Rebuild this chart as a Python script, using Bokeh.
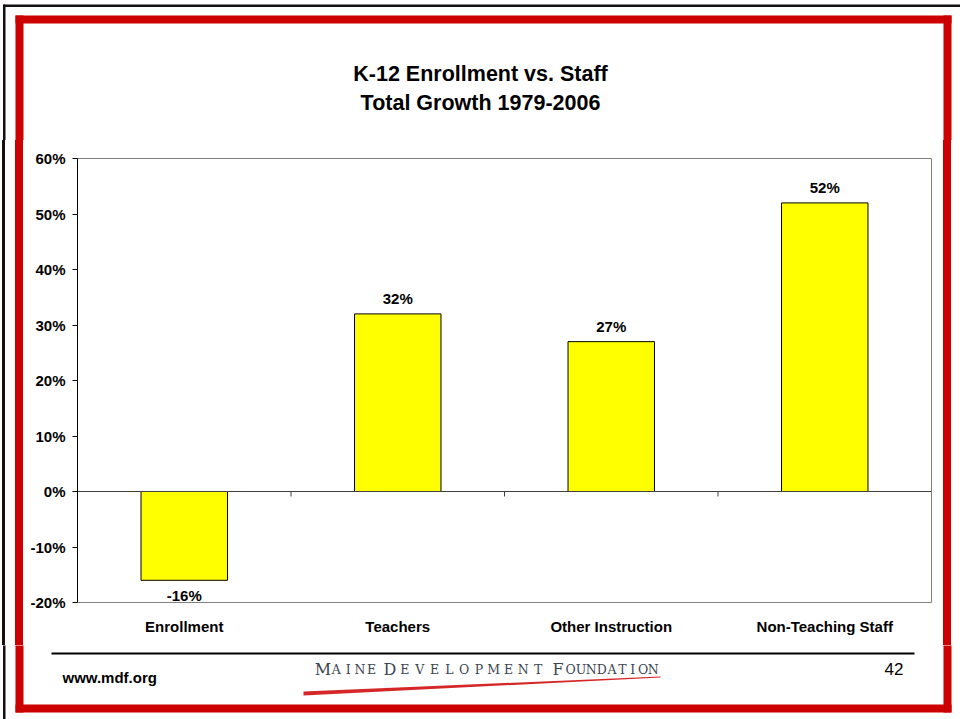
from bokeh.plotting import figure
from bokeh.layouts import column, row
from bokeh.core.properties import value
from bokeh.models import (Range1d, Span, LabelSet, ColumnDataSource, FixedTicker,
                          PrintfTickFormatter, Div)
from bokeh.embed import file_html
from bokeh.resources import INLINE

# ---- data ----
categories = ["Enrollment", "Teachers", "Other Instruction", "Non-Teaching Staff"]
growth = [-16, 32, 27, 52]
y_ticks = [-20, -10, 0, 10, 20, 30, 40, 50, 60]
title_lines = ["K-12 Enrollment vs. Staff", "Total Growth 1979-2006"]
footer_left = "www.mdf.org"
page_number = "42"
logo_words = ["MAINE", "DEVELOPMENT", "FOUNDATION"]

FONT = "Liberation Sans"
SERIF = "DejaVu Serif"
Y_MIN, Y_MAX = -20, 60
W, H = 960, 719
TOP_H, MID_H = 140, 505
BOT_H = H - TOP_H - MID_H
LEFT_W, RIGHT_W = 23, 17
CHART_W = W - LEFT_W - RIGHT_W
FL, FR, FT, FB = 77, 931, 158, 602   # chart frame edges in page pixels
idx = list(range(len(categories)))

# ---------------- chart ----------------
p = figure(width=CHART_W, height=MID_H,
           x_range=Range1d(-0.5, len(categories) - 0.5), y_range=Range1d(Y_MIN, Y_MAX),
           output_backend="svg", toolbar_location=None, title=None,
           min_border_left=FL - LEFT_W, min_border_right=(LEFT_W + CHART_W) - FR,
           min_border_top=FT - TOP_H, min_border_bottom=(TOP_H + MID_H) - FB)
p.background_fill_color = "white"
p.border_fill_color = "white"
p.outline_line_color = "#808080"
p.outline_line_width = 1
p.xgrid.visible = False
p.ygrid.visible = False

ya = p.yaxis[0]
ya.ticker = FixedTicker(ticks=y_ticks)
ya.formatter = PrintfTickFormatter(format="%d%%")
ya.axis_line_color = "black"
ya.axis_line_width = 1
ya.major_tick_line_color = "black"
ya.major_tick_out = 5
ya.major_tick_in = 0
ya.minor_tick_line_color = None
ya.major_label_standoff = 7
ya.major_label_text_font = FONT
ya.major_label_text_font_style = "bold"
ya.major_label_text_font_size = "15px"
ya.major_label_text_color = "black"

xa = p.xaxis[0]
xa.ticker = FixedTicker(ticks=idx)
xa.major_label_overrides = {i: c for i, c in zip(idx, categories)}
xa.axis_line_color = None
xa.major_tick_line_color = None
xa.minor_tick_line_color = None
xa.major_label_standoff = 9
xa.major_label_text_font = FONT
xa.major_label_text_font_style = "bold"
xa.major_label_text_font_size = "15px"
xa.major_label_text_color = "black"

src = ColumnDataSource(dict(x=idx, val=growth))
p.vbar(x="x", top="val", bottom=0, width=0.405, source=src,
       fill_color="#FFFF00", line_color="#000000", line_width=1)

p.add_layout(Span(location=0, dimension="width", line_color="#404040", line_width=1))
tick_len = 5 * (Y_MAX - Y_MIN) / (FB - FT)
bounds = [i + 0.5 for i in idx[:-1]]
p.segment(x0=bounds, y0=[0] * len(bounds), x1=bounds, y1=[-tick_len] * len(bounds),
          line_color="#404040", line_width=1)

pos = [(i, v) for i, v in zip(idx, growth) if v >= 0]
neg = [(i, v) for i, v in zip(idx, growth) if v < 0]
src_pos = ColumnDataSource(dict(x=[i for i, v in pos], val=[v for i, v in pos],
                                lbl=[f"{v}%" for i, v in pos]))
src_neg = ColumnDataSource(dict(x=[i for i, v in neg], val=[v for i, v in neg],
                                lbl=[f"{v}%" for i, v in neg]))
for s, off in ((src_pos, 10), (src_neg, -21)):
    p.add_layout(LabelSet(x="x", y="val", text="lbl", source=s, y_offset=off,
                          text_align="center", text_baseline="alphabetic",
                          text_font=value(FONT), text_font_style="bold", text_font_size="15px",
                          text_color="black"))

# ---------------- slide decorations (page-pixel coordinates) ----------------
RED = "#CC0000"
BLACK = "#111111"
LOGO = "#3c4650"
boxes = [
    (3, W, 4, 6.5, BLACK), (2.5, 5, 4, H, BLACK),
    (15, 951, 15, 23, RED), (15, 23, 15, 712, RED),
    (943, 951, 15, 712, RED), (15, 951, 704, 712, RED),
    (51, 914, 652, 654, "#000000"),
]

def logo_letters():
    spans = [(315, 377), (382, 545), (550, 658)]
    xs, chars, sizes = [], [], []
    for word, (x0, x1) in zip(logo_words, spans):
        first_w = 15
        xs.append(x0 + first_w / 2); chars.append(word[0]); sizes.append("16px")
        rest = word[1:]
        step = (x1 - x0 - first_w) / len(rest)
        for i, ch in enumerate(rest):
            xs.append(x0 + first_w + step * (i + 0.5)); chars.append(ch); sizes.append("12.5px")
    return xs, chars, sizes

def deco(x0, x1, y0, y1):
    f = figure(width=x1 - x0, height=y1 - y0, x_range=Range1d(x0, x1), y_range=Range1d(y1, y0),
               output_backend="svg", toolbar_location=None, title=None,
               x_axis_type=None, y_axis_type=None, min_border=0)
    f.outline_line_color = None
    f.background_fill_color = "white"
    f.border_fill_color = "white"
    f.quad(left=[b[0] for b in boxes], right=[b[1] for b in boxes],
           top=[b[2] for b in boxes], bottom=[b[3] for b in boxes],
           fill_color=[b[4] for b in boxes], line_color=None)
    return f

def strip(x0, x1):
    # vertical slice of the slide frame beside the chart, drawn as CSS bands
    stops = ["#fff 0px"]
    for (l, r, t, b, c) in boxes:
        if b - t > 300 and l < x1 and r > x0:
            stops += [f"#fff {l - x0}px", f"{c} {l - x0}px", f"{c} {r - x0}px", f"#fff {r - x0}px"]
    stops.append(f"#fff {x1 - x0}px")
    return Div(text="", width=x1 - x0, height=MID_H, margin=0,
               styles={"background": "linear-gradient(to right, " + ", ".join(stops) + ")"})

top = deco(0, W, 0, TOP_H)
top.text(x=[480, 480], y=[73.5, 102.5], text=title_lines, text_align="center",
         text_baseline="middle", text_font=value(FONT), text_font_style="bold",
         text_font_size="21.5px", text_color="black")

left = strip(0, LEFT_W)
right = strip(LEFT_W + CHART_W, W)

bot = deco(0, W, TOP_H + MID_H, H)
bot.text(x=[62], y=[677], text=[footer_left], text_align="left", text_baseline="middle",
         text_font=value(FONT), text_font_style="bold", text_font_size="15px", text_color="black")
bot.text(x=[903], y=[668], text=[page_number], text_align="right", text_baseline="middle",
         text_font=value(FONT), text_font_size="17px", text_color="black")
lx, lc, ls = logo_letters()
bot.text(x=lx, y=[669] * len(lx), text=lc, text_font_size=ls, text_align="center",
         text_baseline="alphabetic", text_font=value(SERIF), text_color=LOGO)
bot.patch(x=[303, 660, 660, 303], y=[691, 676, 677, 695], fill_color="#d01010",
          fill_alpha=0.9, line_color=None)

layout = column(top, row(left, p, right, spacing=0), bot, spacing=0)
open("out.html", "w").write(file_html(layout, INLINE))
